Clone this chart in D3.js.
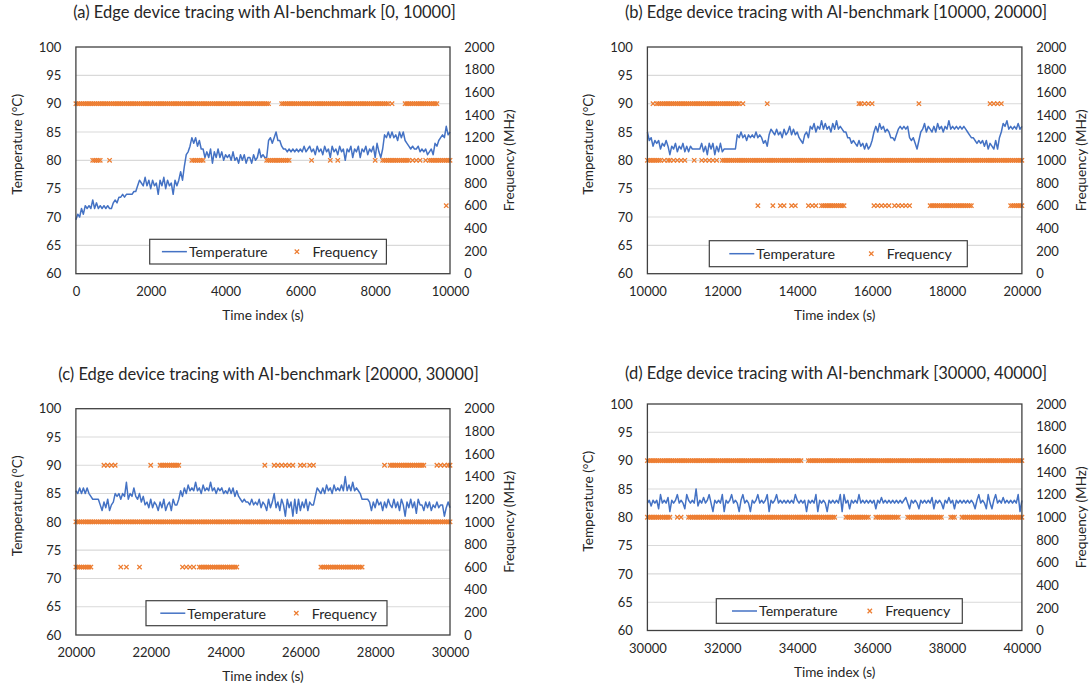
<!DOCTYPE html>
<html>
<head>
<meta charset="utf-8">
<script src="https://cdn.jsdelivr.net/npm/d3@7"></script>
<style>
  body { margin: 0; background: #ffffff; }
  text { font-family: Lato, "Liberation Sans", sans-serif; fill: #262626; }
</style>
</head>
<body>
<svg id="chart" width="1090" height="687"></svg>
<script>
// ---- Data -------------------------------------------------------------
const panelTitles = [
  "(a) Edge device tracing with AI-benchmark [0, 10000]",
  "(b) Edge device tracing with AI-benchmark [10000, 20000]",
  "(c) Edge device tracing with AI-benchmark [20000, 30000]",
  "(d) Edge device tracing with AI-benchmark [30000, 40000]"
];
const timeRanges = [[0, 10000], [10000, 20000], [20000, 30000], [30000, 40000]];
const timeTicks = [
  [0, 2000, 4000, 6000, 8000, 10000],
  [10000, 12000, 14000, 16000, 18000, 20000],
  [20000, 22000, 24000, 26000, 28000, 30000],
  [30000, 32000, 34000, 36000, 38000, 40000]
];
const tempTicks = [60, 65, 70, 75, 80, 85, 90, 95, 100];
const freqTicks = [0, 200, 400, 600, 800, 1000, 1200, 1400, 1600, 1800, 2000];
const seriesNames = ["Temperature", "Frequency"];

// samples are taken every 50 s from the start of each window
const sampleStep = 50;

// temperature per sample (°C)
const tempA = [
  69.5,70.5,70,71.5,70.5,72,71.5,72,71.5,73,
  71.5,72.5,71.5,72,71.5,72,71.5,72,71.5,71.5,
  72.5,73,72.5,73.5,73.5,74,73.5,74,74,74,
  74,74.5,74.5,75.5,76.5,76,75.5,77,75.5,76.5,
  75,76.5,75.5,76,74,76.5,75.5,77,75,76.5,
  75.5,76,74,76.5,75.5,76.5,78,76.5,79,81,
  81.5,82.5,84,83,84,82.5,83.5,82,82,80.5,
  81.5,80.5,82,79.5,81.5,80.5,82,80.5,81.5,80,
  81,80.5,81,80,81.5,80,80.5,79.5,81,80,
  81,79.5,80.5,80.5,79.5,81,80,80.5,82,80.5,
  81,80.5,80.5,83.5,84,83,84,85,83.5,83.5,
  82.5,82,82,81.5,82,81.5,82,81.5,82,81.5,
  82,81.5,82.5,81.5,82,82.5,81.5,82,81,82.5,
  81.5,82,81,82.5,81.5,82,80.5,82.5,81.5,82,
  81,82.5,81.5,82,80,82,81.5,82.5,80.5,82,
  81.5,82.5,80.5,82,81.5,82.5,81,82,81.5,82.5,
  80.5,83,81.5,80.5,82,84.5,84,85,84,85,
  84,84.5,83.5,85,84,85,83.5,83,82.5,82,
  82.5,82,82,82.5,81.5,82,81.5,82,81,81.5,
  82,81,83,82.5,83.5,84,84.5,84,86,84.5,
  85
];
const tempB = [
  85,83.5,84,82.5,83.5,83,83.5,82,83,82.5,
  83.5,82.5,81,82.5,82,83,81.5,82.5,82,83,
  81.5,82.5,81.5,82.5,82,82,82,82,82,83,
  81.5,82.5,81,83,82,83,81,82.5,81.5,83,
  81.5,82,82,82,82,82,82,82,84.5,84,
  85,84,84.5,83.5,84.5,84,84.5,84,85,84,
  84.5,84,83,83.5,82.5,84.5,85.5,85,84.5,85.5,
  84.5,85,84,85.5,84.5,85,86,84.5,85.5,84.5,
  85,84,83.5,83,84.5,85,84,86,85.5,86.5,
  85,86,85.5,87,85.5,86.5,85.5,86,85,86.5,
  85.5,87,85.5,86,85.5,85,85,84,84,83,
  83.5,83,82.5,83.5,82.5,83,82,83,82,82.5,
  83.5,85,86,85,86.5,85.5,86,85,85.5,85,
  84,84,83.5,84.5,85.5,86,85.5,86,85.5,86,
  84,83.5,84,83,82,83.5,85,85.5,86.5,85,
  86,85.5,85,86,85,86.5,85.5,86,85,86,
  85.5,87,85.5,86,85.5,86,85.5,86,85.5,86,
  85.5,85,84.5,84,84,83.5,83,83.5,83,83.5,
  82.5,83.5,82,83,82.5,82,83.5,82,84,85,
  86.5,86,87,85.5,86,85.5,86,85.5,86.5,85.5,
  86
];
const tempC = [
  85.5,85,86,85,86,85,86,85,84.5,84,
  84,84,84,83,82,83.5,82.5,84,82,83,
  83.5,85,84.5,85,84,85,84.5,87,84,85,
  84.5,86,84.5,84,85,83.5,84.5,83,83.5,82.5,
  84,82.5,83.5,83,82,83.5,82.5,84,82,83,
  83.5,82,84,83,83,84,85.5,84.5,86,85,
  86.5,85.5,86,85.5,87,85.5,86,85,86.5,85.5,
  86,85.5,87,85.5,86,85,86,85.5,86,85,
  85.5,85,86,85,86,84.5,85.5,84.5,84,83.5,
  84,83.5,83.5,83,84,83,83.5,83,84,82.5,
  83.5,83,82,84,82.5,83.5,85,82.5,83.5,82,
  84,83,81,84,82.5,83.5,81,84,81.5,84,
  82,83.5,82.5,84,82,83.5,83,83,84.5,86,
  85.5,85,86,85,86.5,85.5,86,85,86.5,85.5,
  86,85.5,86.5,85.5,88,85.5,86.5,85.5,87,85.5,
  86,85.5,85,84,84,84,84,83.5,82,83.5,
  82.5,84,83,83.5,82,83.5,82.5,84,83,82.5,
  84,82.5,83.5,82,84,83,81,83.5,82.5,84,
  82.5,83.5,81.5,84,83,83,82,83.5,82.5,83.5,
  82,83,82.5,83.5,82.5,83,83,81,82.5,83.5,
  82.5
];
const tempD = [
  82.5,83,82,83,82.5,83,81.5,84,82.5,83,
  82.5,83.5,81,83,82.5,83,84,82.5,83,82.5,
  81.5,84,83,82.5,83,82.5,85,82,83,82.5,
  83.5,82.5,83,84,82.5,81,83,82.5,83,82.5,
  84,81,83,82.5,83,84,82.5,83,82.5,81,
  83,84,82.5,83,82.5,81,83,82.5,83,84,
  82.5,83,82.5,83,84,81,83,82.5,83,84,
  82.5,83,82.5,83,82.5,83,82.5,83,82.5,84,
  83,82.5,83,82.5,83,81,83,82.5,83,82.5,
  84,81,83,82.5,83,82.5,81,83,82.5,83,
  82.5,83,82.5,84,81,84,82.5,83,81.5,83,
  82.5,83,82.5,84,82.5,83,82.5,83,82.5,83,
  82.5,83,81.5,83,82.5,83.5,82.5,83,82.5,83,
  82.5,83,82.5,83,82.5,83,82.5,83,83.5,82.5,
  81.5,83,82.5,83,82.5,81.5,83,82.5,83,82.5,
  83,82.5,83.5,81.5,83,82.5,83,82.5,81.5,83,
  82.5,83.5,82.5,83,81.5,83,82.5,83,82.5,83,
  82.5,83,82.5,83,82.5,81.5,83,84,82.5,83,
  82.5,81.5,84,82.5,81.5,83,84,82.5,83,82.5,
  83.5,82.5,83,82.5,83,82.5,83,82.5,84,81,
  83
];

// frequency readings: sample indices (50 s steps) at which each level was logged
const freqLevels = [1500, 1000, 600];   // MHz

const freqA1500 = [
  0,1,2,3,4,5,6,7,8,9,10,11,12,13,14,15,16,17,18,19,
  20,21,22,23,24,25,26,27,28,29,30,31,32,33,34,35,36,37,38,39,
  40,41,42,43,44,45,46,47,48,49,50,51,52,53,54,55,56,57,58,59,
  60,61,62,63,64,65,66,67,68,69,70,71,72,73,74,75,76,77,78,79,
  80,81,82,83,84,85,86,87,88,89,90,91,92,93,94,95,96,97,98,99,
  100,101,102,103,
  110,111,112,113,114,115,116,117,118,119,120,121,122,123,124,125,126,127,128,129,
  130,131,132,133,134,135,136,137,138,139,140,141,142,143,144,145,146,147,148,149,
  150,151,152,153,154,155,156,157,158,159,160,161,162,163,164,165,166,167,169,
  176,177,178,179,180,181,182,183,184,185,186,187,188,189,190,191,192,193
];
const freqA1000 = [
  9,10,11,12,13,18,62,63,64,65,66,67,68,
  102,103,104,105,106,107,108,109,110,111,112,113,114,126,136,140,160,
  164,165,166,167,168,169,170,171,172,173,174,175,176,177,178,180,182,184,187,189,
  190,191,192,193,194,195,196,197,198,199,200
];
const freqA600 = [198];

const freqB1500 = [
  3,5,6,7,8,9,10,11,12,13,14,15,16,17,18,19,20,21,22,23,24,25,26,27,28,29,
  30,31,32,33,34,35,36,37,38,39,40,41,42,43,44,45,46,47,48,49,
  51,64,113,114,116,118,120,145,183,185,187,189
];
const freqB1000 = [
  0,1,2,3,4,5,6,7,9,11,12,14,16,18,20,25,29,31,33,35,37,
  40,41,42,43,44,45,46,47,48,49,50,51,52,53,54,55,56,57,58,59,
  60,61,62,63,64,65,66,67,68,69,70,71,72,73,74,75,76,77,78,79,
  80,81,82,83,84,85,86,87,88,89,90,91,92,93,94,95,96,97,98,99,
  100,101,102,103,104,105,106,107,108,109,110,111,112,113,114,115,116,117,118,119,
  120,121,122,123,124,125,126,127,128,129,130,131,132,133,134,135,136,137,138,139,
  140,141,142,143,144,145,146,147,148,149,150,151,152,153,154,155,156,157,158,159,
  160,161,162,163,164,165,166,167,168,169,170,171,172,173,174,175,176,177,178,179,
  180,181,182,183,184,185,186,187,188,189,190,191,192,193,194,195,196,197,198,199,200
];
const freqB600 = [
  59,67,71,73,77,79,86,88,90,
  93,94,95,96,97,98,99,100,101,102,103,104,105,
  121,123,125,127,129,132,134,136,138,140,
  151,152,153,154,155,156,157,158,159,160,161,162,163,164,165,166,167,168,169,170,171,172,173,
  194,195,196,197,198,199,200
];

const freqC1500 = [
  15,17,19,21,40,45,46,47,48,49,50,51,52,53,54,55,
  101,106,108,110,112,114,116,120,122,125,127,
  165,168,169,170,171,172,173,174,175,176,177,178,179,180,181,182,183,184,185,186,
  193,195,197,199,200
];
const freqC1000 = [
  0,1,2,3,4,5,6,7,8,9,10,11,12,13,14,15,16,17,18,19,
  20,21,22,23,24,25,26,27,28,29,30,31,32,33,34,35,36,37,38,39,
  40,41,42,43,44,45,46,47,48,49,50,51,52,53,54,55,56,57,58,59,
  60,61,62,63,64,65,66,67,68,69,70,71,72,73,74,75,76,77,78,79,
  80,81,82,83,84,85,86,87,88,89,90,91,92,93,94,95,96,97,98,99,
  100,101,102,103,104,105,106,107,108,109,110,111,112,113,114,115,116,117,118,119,
  120,121,122,123,124,125,126,127,128,129,130,131,132,133,134,135,136,137,138,139,
  140,141,142,143,144,145,146,147,148,149,150,151,152,153,154,155,156,157,158,159,
  160,161,162,163,164,165,166,167,168,169,170,171,172,173,174,175,176,177,178,179,
  180,181,182,183,184,185,186,187,188,189,190,191,192,193,194,195,196,197,198,199,200
];
const freqC600 = [
  0,1,2,3,4,5,6,7,8,24,27,34,57,59,61,63,
  66,67,68,69,70,71,72,73,74,75,76,77,78,79,80,81,82,83,84,85,86,
  131,132,133,134,135,136,137,138,139,140,141,142,143,144,145,146,147,148,149,150,151,152,153
];

const freqD1500 = [
  0,1,2,3,4,5,6,7,8,9,10,11,12,13,14,15,16,17,18,19,
  20,21,22,23,24,25,26,27,28,29,30,31,32,33,34,35,36,37,38,39,
  40,41,42,43,44,45,46,47,48,49,50,51,52,53,54,55,56,57,58,59,
  60,61,62,63,64,65,66,67,68,69,70,71,72,73,74,75,76,77,78,79,
  80,81,82,86,87,88,89,90,91,92,93,94,95,96,97,98,99,
  100,101,102,103,104,105,106,107,108,109,110,111,112,113,114,115,116,117,118,119,
  120,121,122,123,124,125,126,127,128,129,130,131,132,133,134,135,136,137,138,139,
  140,141,142,143,144,145,146,147,148,149,150,151,152,153,154,155,156,157,158,159,
  160,161,162,163,164,165,166,167,168,169,170,171,172,173,174,175,176,177,178,179,
  180,181,182,183,184,185,186,187,188,189,190,191,192,193,194,195,196,197,198,199,200
];
const freqD1000 = [
  0,1,2,3,4,5,6,7,8,9,10,11,12,16,18,
  22,23,24,25,26,27,28,29,30,31,32,33,34,35,36,37,38,39,
  40,41,42,43,44,45,46,47,48,49,50,51,52,53,54,55,56,57,58,59,
  60,61,62,63,64,65,66,67,68,69,70,71,72,73,74,75,76,77,78,79,
  80,81,82,83,84,85,86,87,88,89,90,91,92,93,94,95,96,97,98,99,100,
  106,107,108,109,110,111,112,113,114,115,116,117,118,
  122,123,124,125,126,127,128,129,130,131,132,133,134,
  139,140,141,142,143,144,145,146,147,148,149,150,151,152,153,154,155,156,157,
  162,163,164,
  168,169,170,171,172,173,174,175,176,177,178,179,
  180,181,182,183,184,185,186,187,188,189,190,191,192,193,194,195,196,197,198,199,200
];
const freqD600 = [];

const tempSeries = [tempA, tempB, tempC, tempD];
const freqSeries = [
  [freqA1500, freqA1000, freqA600],
  [freqB1500, freqB1000, freqB600],
  [freqC1500, freqC1000, freqC600],
  [freqD1500, freqD1000, freqD600]
];

// ---- Layout -----------------------------------------------------------
const layout = [
  { left: 75.9,  right: 450,    top: 47,    bottom: 273.7, titleX: 264.5, titleY: 18.3,
    legend: { x: 149.7, y: 239.3, w: 236.7, h: 24.7, line: 12.2, mark: 147.2 } },
  { left: 647.4, right: 1021.9, top: 47,    bottom: 273.7, titleX: 836,   titleY: 18.3,
    legend: { x: 709.3, y: 240.7, w: 258,   h: 26,   line: 20,   mark: 162 } },
  { left: 75.9,  right: 450,    top: 408.7, bottom: 635,   titleX: 268.5, titleY: 379.5,
    legend: { x: 146,   y: 600.7, w: 241,   h: 25,   line: 14.3, mark: 150.3 } },
  { left: 647.4, right: 1021.9, top: 404,   bottom: 630.5, titleX: 836,   titleY: 378.5,
    legend: { x: 716.3, y: 598.7, w: 246,   h: 24.6, line: 15.7, mark: 153.5 } }
];

const tempColor = "#4472C4";
const freqColor = "#ED7D31";
const frameColor = "#404040";
const gridColor = "#d9d9d9";
const crossPath = "M-2.2,-2.2L2.2,2.2M-2.2,2.2L2.2,-2.2";
const tickFont = "13px";
const titleFont = "16.5px";
const axisTitleFont = "13.6px";
const legendFont = "14.2px";

const svg = d3.select("#chart");

layout.forEach((p, k) => {
  const g = svg.append("g").attr("class", "panel");
  const t0 = timeRanges[k][0];
  const sampleTime = i => t0 + i * sampleStep;

  const x = d3.scaleLinear().domain(timeRanges[k]).range([p.left, p.right]);
  const yT = d3.scaleLinear().domain([60, 100]).range([p.bottom, p.top]);
  const yF = d3.scaleLinear().domain([0, 2000]).range([p.bottom, p.top]);

  // chart title
  g.append("text")
    .attr("x", p.titleX).attr("y", p.titleY)
    .attr("text-anchor", "middle")
    .style("font-size", titleFont)
    .text(panelTitles[k]);

  // horizontal gridlines
  g.append("g").selectAll("line")
    .data(tempTicks.filter(v => v > 60 && v < 100))
    .join("line")
    .attr("x1", p.left).attr("x2", p.right)
    .attr("y1", d => yT(d)).attr("y2", d => yT(d))
    .attr("stroke", gridColor).attr("stroke-width", 1.1);

  // left axis (temperature)
  const axL = g.append("g")
    .attr("transform", `translate(${p.left},0)`)
    .call(d3.axisLeft(yT).tickValues(tempTicks).tickSize(0).tickPadding(14.5));
  axL.select(".domain").remove();
  axL.selectAll("text").style("font-size", tickFont);

  // right axis (frequency)
  const axR = g.append("g")
    .attr("transform", `translate(${p.right},0)`)
    .call(d3.axisRight(yF).tickValues(freqTicks).tickSize(0).tickPadding(14.3).tickFormat(d3.format("d")));
  axR.select(".domain").remove();
  axR.selectAll("text").style("font-size", tickFont);

  // bottom axis (time)
  const axB = g.append("g")
    .attr("transform", `translate(0,${p.bottom})`)
    .call(d3.axisBottom(x).tickValues(timeTicks[k]).tickSize(0).tickPadding(13).tickFormat(d3.format("d")));
  axB.select(".domain").remove();
  axB.selectAll("text").style("font-size", tickFont);

  // axis titles
  const midY = (p.top + p.bottom) / 2;
  g.append("text")
    .attr("transform", `translate(${p.left - 59},${midY - 16}) rotate(-90)`)
    .attr("text-anchor", "middle").attr("dominant-baseline", "central")
    .style("font-size", axisTitleFont)
    .text("Temperature (°C)");
  g.append("text")
    .attr("transform", `translate(${p.right + 59.4},${midY}) rotate(-90)`)
    .attr("text-anchor", "middle").attr("dominant-baseline", "central")
    .style("font-size", axisTitleFont)
    .text("Frequency (MHz)");
  g.append("text")
    .attr("x", (p.left + p.right) / 2).attr("y", p.bottom + 46)
    .attr("text-anchor", "middle")
    .style("font-size", axisTitleFont)
    .text("Time index (s)");

  // temperature trace
  const line = d3.line()
    .x((d, i) => x(sampleTime(i)))
    .y(d => yT(d));
  g.append("path")
    .datum(tempSeries[k])
    .attr("d", line)
    .attr("fill", "none")
    .attr("stroke", tempColor)
    .attr("stroke-width", 1.5)
    .attr("stroke-linejoin", "round");

  // frequency markers
  freqLevels.forEach((level, j) => {
    g.append("g").selectAll("path")
      .data(freqSeries[k][j])
      .join("path")
      .attr("transform", d => `translate(${x(sampleTime(d))},${yF(level)})`)
      .attr("d", crossPath)
      .attr("fill", "none")
      .attr("stroke", freqColor)
      .attr("stroke-width", 1.3);
  });

  // plot frame
  g.append("rect")
    .attr("x", p.left).attr("y", p.top)
    .attr("width", p.right - p.left).attr("height", p.bottom - p.top)
    .attr("fill", "none").attr("stroke", frameColor).attr("stroke-width", 1.3);

  // legend
  const L = p.legend;
  const lg = g.append("g").attr("transform", `translate(${L.x},${L.y})`);
  lg.append("rect")
    .attr("width", L.w).attr("height", L.h)
    .attr("fill", "#ffffff").attr("stroke", frameColor).attr("stroke-width", 1.2);
  const cy = L.h / 2;
  lg.append("line")
    .attr("x1", L.line).attr("x2", L.line + 25).attr("y1", cy).attr("y2", cy)
    .attr("stroke", tempColor).attr("stroke-width", 1.5);
  lg.append("text")
    .attr("x", L.line + 27).attr("y", cy).attr("dominant-baseline", "central")
    .style("font-size", legendFont).text(seriesNames[0]);
  lg.append("path")
    .attr("transform", `translate(${L.mark},${cy})`)
    .attr("d", crossPath).attr("fill", "none")
    .attr("stroke", freqColor).attr("stroke-width", 1.3);
  lg.append("text")
    .attr("x", L.mark + 15.5).attr("y", cy).attr("dominant-baseline", "central")
    .style("font-size", legendFont).text(seriesNames[1]);
});
</script>
</body>
</html>
